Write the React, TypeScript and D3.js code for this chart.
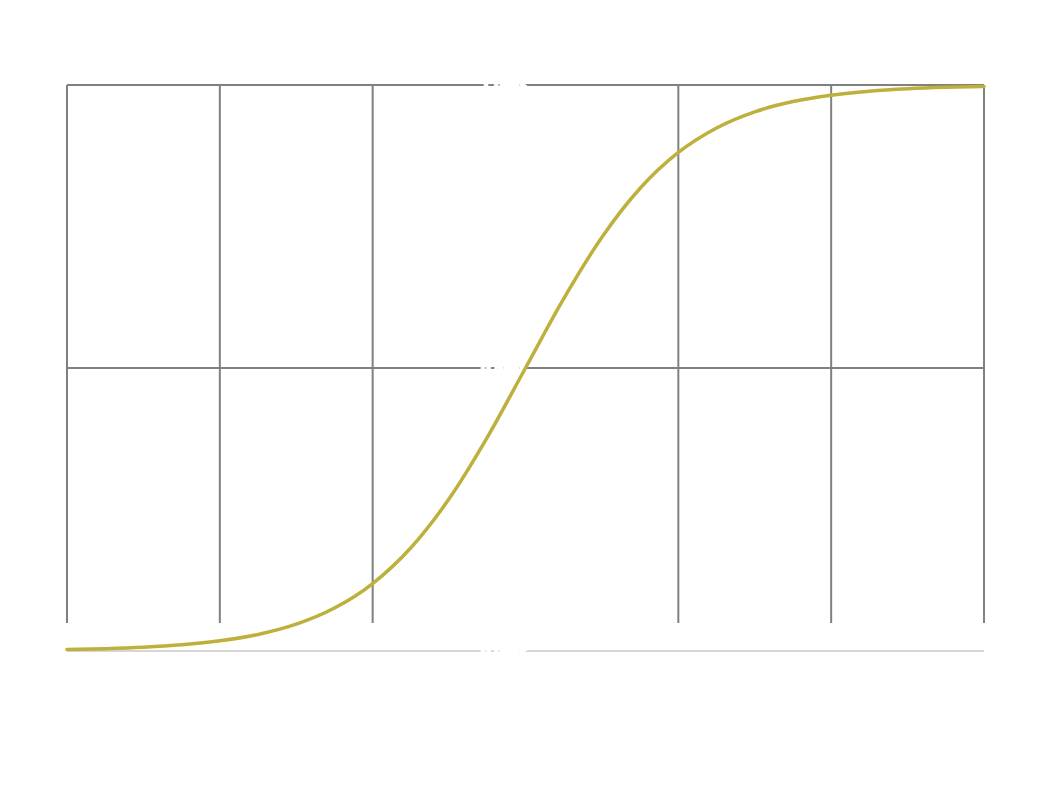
import React from "react";
import * as d3 from "d3";

const xValues = [-6, -5.5, -5, -4.5, -4, -3.5, -3, -2.5, -2, -1.5, -1, -0.5, 0, 0.5, 1, 1.5, 2, 2.5, 3, 3.5, 4, 4.5, 5, 5.5, 6];
const yValues = [0.0025, 0.0041, 0.0067, 0.011, 0.018, 0.0293, 0.0474, 0.0759, 0.1192, 0.1824, 0.2689, 0.3775, 0.5, 0.6225, 0.7311, 0.8176, 0.8808, 0.9241, 0.9526, 0.9707, 0.982, 0.989, 0.9933, 0.9959, 0.9975];
const xTicks = [-6, -4, -2, 0, 2, 4, 6];
const yGridTicks = [0.5, 1];
const yLabels = ["0.0", "0.5", "1.0"];
const yLabelValues = [0, 0.5, 1];

export default function App() {
  const W = 1052, H = 786;
  const x = d3.scaleLinear().domain([-6, 6]).range([67, 984]);
  const y = d3.scaleLinear().domain([0, 1]).range([651, 85]);
  const line = d3.line<number>()
    .x((_, i) => x(xValues[i]))
    .y((d) => y(d))
    .curve(d3.curveMonotoneX);
  const gridBottom = 623;
  return (
    <svg width={W} height={H} style={{ position: "absolute", left: 0, top: 0, fontFamily: "DejaVu Sans" }}>
      <rect width={W} height={H} fill="#fff" />
      {xTicks.filter((t) => t !== 0).map((t) => (
        <line key={"v" + t} x1={x(t)} x2={x(t)} y1={y(1)} y2={gridBottom} stroke="#808080" strokeWidth={2} />
      ))}
      {yGridTicks.map((t) => (
        <line key={"h" + t} x1={x(-6)} x2={x(6)} y1={y(t)} y2={y(t)} stroke="#808080" strokeWidth={2} />
      ))}
      <line x1={x(-6)} x2={x(6)} y1={y(0)} y2={y(0)} stroke="#c8c8c8" strokeWidth={1.5} />
      {/* white y axis (invisible on white background) */}
      <line x1={x(0)} x2={x(0)} y1={y(1)} y2={y(0)} stroke="#fff" strokeWidth={3} />
      {yLabelValues.map((v, i) => (
        <g key={"yl" + v}>
          <line x1={x(0) - 6} x2={x(0)} y1={y(v)} y2={y(v)} stroke="#fff" strokeWidth={3} />
          <text
            x={x(0) - 22}
            y={y(v)}
            dy="0.35em"
            textAnchor="end"
            fontSize={14}
            fill="#fff"
            stroke="#fff"
            strokeWidth={3}
            style={{ paintOrder: "stroke" }}
          >
            {yLabels[i]}
          </text>
          <rect x={x(0) - 22} y={y(v) - 3} width={16} height={6} fill="#fff" />
        </g>
      ))}
      <path d={line(yValues) || ""} fill="none" stroke="#bdb03c" strokeWidth={3.5} strokeLinecap="round" />
    </svg>
  );
}
